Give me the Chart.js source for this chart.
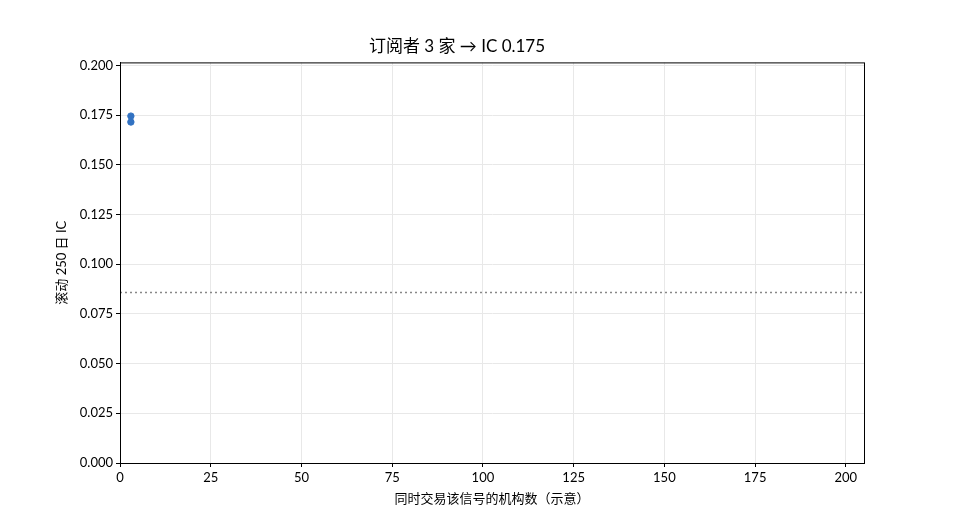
<!DOCTYPE html>
<html>
<head>
<meta charset="utf-8">
<script src="https://cdn.jsdelivr.net/npm/chart.js@4.4.1/dist/chart.umd.min.js"></script>
<style>
  html, body { margin: 0; padding: 0; background: #fff; }
  #wrap { width: 960px; height: 520px; }
</style>
</head>
<body>
<div id="wrap"><canvas id="chart"></canvas></div>
<script>
// subscriber counts and their rolling IC
const subscriberCounts = [3, 3];
const icValues = [0.1745, 0.1715];
// reference level (dotted line)
const refLineX = [0, 205];
const refLineY = [0.0857, 0.0857];
const xTicks = [0, 25, 50, 75, 100, 125, 150, 175, 200];
const yTicks = [0, 0.025, 0.05, 0.075, 0.1, 0.125, 0.15, 0.175, 0.2];

const FONT = 'Lato, "Noto Sans CJK SC", sans-serif';

const frame = {
  id: 'frame',
  afterDatasetsDraw(chart) {
    const { ctx, chartArea: a } = chart;
    ctx.save();
    ctx.strokeStyle = '#000';
    ctx.lineWidth = 1;
    ctx.strokeRect(a.left + 0.5, a.top + 0.5, a.right - a.left, a.bottom - a.top);
    ctx.restore();
  }
};

new Chart(document.getElementById('chart'), {
  type: 'scatter',
  data: {
    datasets: [
      {
        data: subscriberCounts.map((x, i) => ({ x, y: icValues[i] })),
        backgroundColor: '#3272c2',
        borderColor: '#3272c2',
        pointRadius: 3.2,
        pointHoverRadius: 3.2
      },
      {
        type: 'line',
        data: refLineX.map((x, i) => ({ x, y: refLineY[i] })),
        borderColor: '#888',
        borderWidth: 1.5,
        borderDash: [2, 3],
        pointRadius: 0,
        fill: false
      }
    ]
  },
  options: {
    responsive: true,
    maintainAspectRatio: false,
    animation: false,
    layout: { padding: { left: 50, right: 96, top: 0, bottom: 0 } },
    plugins: {
      legend: { display: false },
      tooltip: { enabled: false },
      title: {
        display: true,
        text: '订阅者 3 家 → IC 0.175',
        color: '#000',
        font: { family: FONT, size: 17, weight: 'normal' },
        padding: { top: 36, bottom: 6 }
      }
    },
    scales: {
      x: {
        type: 'linear',
        min: 0,
        max: 205,
        afterFit: s => { s.height = 57; },
        afterBuildTicks: s => { s.ticks = xTicks.map(v => ({ value: v })); },
        ticks: { color: '#000', font: { family: FONT, size: 13 }, padding: 3, maxRotation: 0, autoSkip: false },
        grid: { color: '#e8e8e8', tickColor: '#000', tickLength: 4 },
        border: { color: '#000' },
        title: {
          display: true,
          text: '同时交易该信号的机构数（示意）',
          color: '#000',
          font: { family: FONT, size: 13 },
          padding: { top: 4, bottom: 13 }
        }
      },
      y: {
        type: 'linear',
        min: 0,
        max: 0.2015,
        afterFit: s => { s.width = 70; },
        afterBuildTicks: s => { s.ticks = yTicks.map(v => ({ value: v })); },
        ticks: {
          color: '#000',
          font: { family: FONT, size: 13 },
          padding: 3,
          autoSkip: false,
          callback: v => v.toFixed(3)
        },
        grid: { color: '#e8e8e8', tickColor: '#000', tickLength: 4 },
        border: { color: '#000' },
        title: {
          display: true,
          text: '滚动 250 日 IC',
          color: '#000',
          font: { family: FONT, size: 13 },
          padding: { top: 4, bottom: 4 }
        }
      }
    }
  },
  plugins: [frame]
});
</script>
</body>
</html>
